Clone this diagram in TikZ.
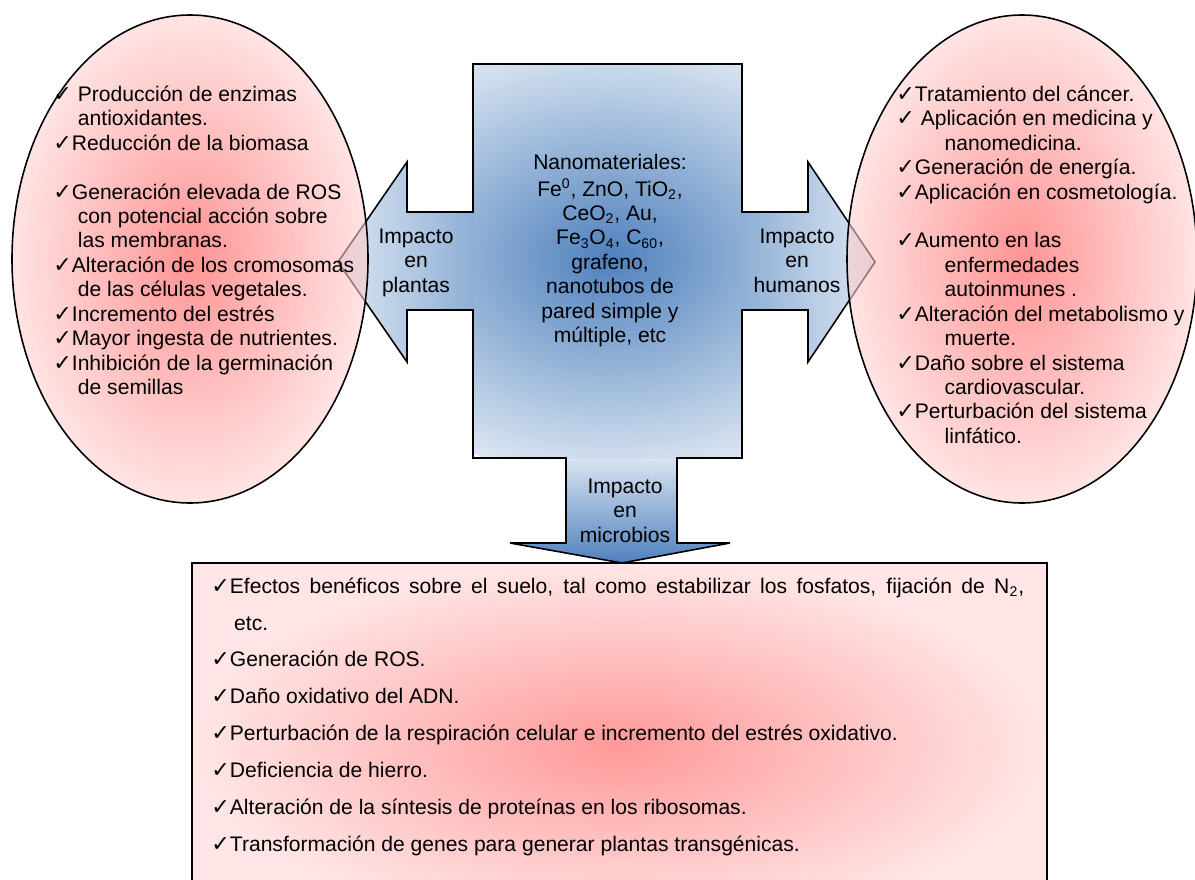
\documentclass[tikz,border=0pt]{standalone}
\usepackage{fontspec}
\setmainfont{Liberation Sans}
\newfontfamily\chkfont{DejaVu Sans}[Scale=1.05]
\newcommand{\chk}{{\chkfont ✓}}
\newcommand{\ind}[1]{\hspace*{#1}}
\definecolor{boxblue}{RGB}{79,129,189}
\definecolor{paleblue}{RGB}{220,230,242}
\tikzset{
  outline/.style={draw=black, line width=0.9pt, line join=miter},
  txt/.style={inner sep=0pt, font=\fontsize{12}{13.9}\selectfont},
  lbl/.style={txt, align=center, anchor=north},
  pinkish/.style={inner color=red!70, outer color=red!18, fill opacity=0.6},
}
\begin{document}
\begin{tikzpicture}[x=0.02cm, y=-0.02cm]
      \useasboundingbox (0,0) rectangle (1195,879);
      \clip (0,0) rectangle (1195,879);

      % CENTRAL BOX AND ARROWS
      \shade[top color=paleblue, bottom color=boxblue]
        (566,456) -- (677,456) -- (677,543) -- (730,543) -- (622,563)
        -- (510,543) -- (566,543) -- cycle;

      \begin{scope}
        \clip (473,64) rectangle (742,458);
        \shade[inner color=boxblue, outer color=paleblue] (610,258) ellipse (300 and 220);
      \end{scope}

      \shade[left color=paleblue, right color=boxblue!55!paleblue]
        (338,262) -- (407,162) -- (407,212) -- (475,212) -- (475,310)
        -- (407,310) -- (407,362) -- cycle;
      \shade[left color=boxblue!55!paleblue, right color=paleblue]
        (875,262) -- (808,162) -- (808,212) -- (740,212) -- (740,310)
        -- (808,310) -- (808,362) -- cycle;

      \draw[outline] (473,64) -- (742,64) -- (742,212) -- (808,212) -- (808,162)
        -- (875,262) -- (808,362) -- (808,310) -- (742,310) -- (742,458)
        -- (677,458) -- (677,543) -- (730,543) -- (622,563) -- (510,543)
        -- (566,543) -- (566,458) -- (473,458) -- (473,310) -- (407,310)
        -- (407,362) -- (338,262) -- (407,162) -- (407,212) -- (473,212) -- cycle;

      % ELLIPSES
      \shade[pinkish] (190,259) ellipse (178 and 244);
      \draw[outline] (190,259) ellipse (178 and 244);
      \shade[pinkish] (1022,259) ellipse (175 and 244);
      \draw[outline] (1022,259) ellipse (175 and 244);

      % BOTTOM BOX
      \shade[inner color=red!40, outer color=red!10] (192,563) rectangle (1047,930);
      \draw[outline] (192,563) rectangle (1047,930);

      % NOTES
      \node[lbl] (nano) at (610,152) {\strut Nanomateriales:\\
        Fe\textsuperscript{0}, ZnO, TiO\textsubscript{2},\\
        CeO\textsubscript{2}, Au,\\
        Fe\textsubscript{3}O\textsubscript{4}, C\textsubscript{60},\\
        grafeno,\\ nanotubos de\\ pared simple y\\ múltiple, etc};

      \node[lbl] (plantas) at (416,226) {\strut Impacto\\en\\plantas};
      \node[lbl] (humanos) at (797,226) {\strut Impacto\\en\\humanos};
      \node[lbl] (microbios) at (625,476) {\strut Impacto\\en\\microbios};

      \node[txt, align=left, anchor=north west] (plantastxt) at (53,84) {\strut
        \chk\ Producción de enzimas\\
        \ind{14pt}antioxidantes.\\
        \chk Reducción de la biomasa\\[13.9pt]
        \chk Generación elevada de ROS\\
        \ind{14pt}con potencial acción sobre\\
        \ind{14pt}las membranas.\\
        \chk Alteración de los cromosomas\\
        \ind{14pt}de las células vegetales.\\
        \chk Incremento del estrés\\
        \chk Mayor ingesta de nutrientes.\\
        \chk Inhibición de la germinación\\
        \ind{14pt}de semillas};

      \node[txt, align=left, anchor=north west] (humanostxt) at (896,84) {\strut
        \chk Tratamiento del cáncer.\\
        \chk\ Aplicación en medicina y\\
        \ind{27.5pt}nanomedicina.\\
        \chk Generación de energía.\\
        \chk Aplicación en cosmetología.\\[13.9pt]
        \chk Aumento en las\\
        \ind{27.5pt}enfermedades\\
        \ind{27.5pt}autoinmunes .\\
        \chk Alteración del metabolismo y\\
        \ind{27.5pt}muerte.\\
        \chk Daño sobre el sistema\\
        \ind{27.5pt}cardiovascular.\\
        \chk Perturbación del sistema\\
        \ind{27.5pt}linfático.};

      \node[txt, anchor=north west, text width=462.6pt, align=justify,
        font=\fontsize{12}{21}\selectfont] (microtxt) at (211,567) {%
        \parindent=0pt\hangindent=13pt\hangafter=1
        \strut\chk Efectos benéficos sobre el suelo, tal como estabilizar los fosfatos, fijación de N\textsubscript{2}, \linebreak etc.\par
        \chk Generación de ROS.\par
        \chk Daño oxidativo del ADN.\par
        \chk Perturbación de la respiración celular e incremento del estrés oxidativo.\par
        \chk Deficiencia de hierro.\par
        \chk Alteración de la síntesis de proteínas en los ribosomas.\par
        \chk Transformación de genes para generar plantas transgénicas.\par};

\end{tikzpicture}
\end{document}
